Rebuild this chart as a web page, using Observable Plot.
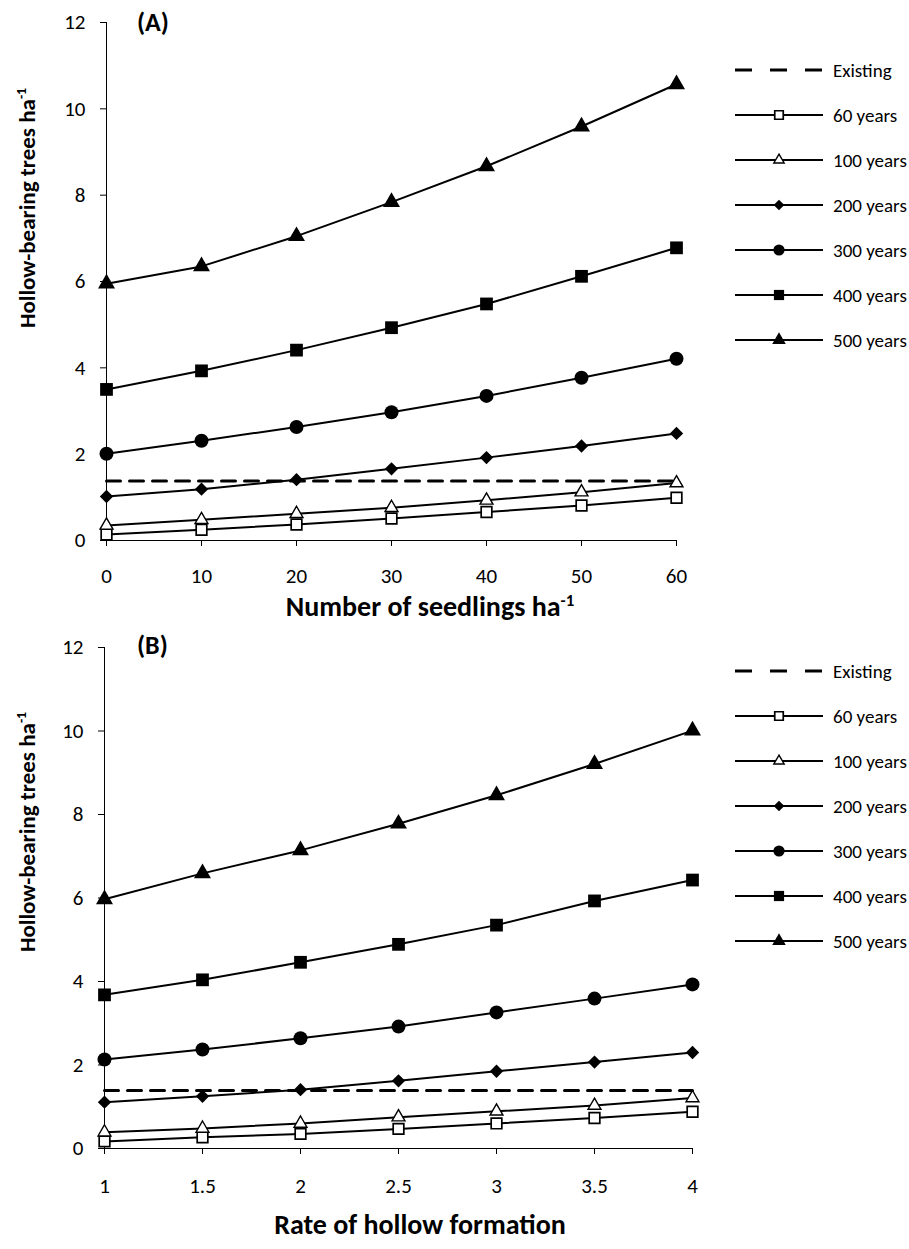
<!DOCTYPE html>
<html>
<head>
<meta charset="utf-8">
<script src="https://cdn.jsdelivr.net/npm/d3@7"></script>
<script src="https://cdn.jsdelivr.net/npm/@observablehq/plot@0.6"></script>
<style>
  body { margin: 0; background: #fff; }
  #fig { position: relative; width: 909px; height: 1249px; font-family: Carlito, Calibri, Lato, sans-serif; color: #000; }
  .panel { position: absolute; left: 0; }
  .ttl { position: absolute; font-weight: bold; white-space: nowrap; transform: translate(-50%, -50%); line-height: 1; }
  .ttl sup { font-size: 0.6em; vertical-align: 0.6em; line-height: 0; }
  .xtl { font-size: 28px; }
  .ytl { font-size: 23px; transform: translate(-50%, -50%) rotate(-90deg); }
  .tag { position: absolute; font-weight: bold; font-size: 26px; line-height: 1; transform: translateY(-50%); }
  .leg { position: absolute; left: 735px; display: flex; align-items: center; height: 24px; font-size: 19px; transform: translateY(-50%); white-space: nowrap; }
  .leg svg { display: block; margin-right: 10px; }
</style>
</head>
<body>
<div id="fig"></div>
<script>
// Series labels (stand age of the hollow-bearing tree population)
const ages = ["60 years", "100 years", "200 years", "300 years", "400 years", "500 years"];
const yTicks = [0, 2, 4, 6, 8, 10, 12];

// (A) number of seedlings planted per hectare
const seedlings = [0, 10, 20, 30, 40, 50, 60];
const seedlings60 = [0.14, 0.25, 0.37, 0.51, 0.66, 0.81, 0.99];
const seedlings100 = [0.35, 0.48, 0.62, 0.76, 0.93, 1.12, 1.33];
const seedlings200 = [1.02, 1.19, 1.41, 1.66, 1.92, 2.19, 2.48];
const seedlings300 = [2.01, 2.31, 2.63, 2.97, 3.35, 3.77, 4.21];
const seedlings400 = [3.50, 3.93, 4.41, 4.93, 5.48, 6.12, 6.78];
const seedlings500 = [5.95, 6.35, 7.05, 7.84, 8.67, 9.59, 10.57];
const existingSeedlings = 1.38;

// (B) rate of hollow formation
const rates = [1, 1.5, 2, 2.5, 3, 3.5, 4];
const rate60 = [0.17, 0.27, 0.35, 0.47, 0.60, 0.73, 0.88];
const rate100 = [0.39, 0.48, 0.60, 0.75, 0.89, 1.03, 1.21];
const rate200 = [1.11, 1.25, 1.41, 1.62, 1.85, 2.07, 2.30];
const rate300 = [2.13, 2.37, 2.64, 2.92, 3.26, 3.59, 3.93];
const rate400 = [3.68, 4.04, 4.46, 4.89, 5.35, 5.93, 6.43];
const rate500 = [5.97, 6.59, 7.14, 7.78, 8.46, 9.21, 10.01];
const existingRate = 1.39;

// Marker styling for each age class
const markers = {
  "60 years":  {symbol: "square",   fill: "#fff", r: 6.0, strokeWidth: 1.7},
  "100 years": {symbol: "triangle", fill: "#fff", r: 4.8, strokeWidth: 1.4},
  "200 years": {symbol: "diamond2", fill: "#000", r: 6.0, strokeWidth: 0},
  "300 years": {symbol: "circle",   fill: "#000", r: 7.0, strokeWidth: 0},
  "400 years": {symbol: "square",   fill: "#000", r: 7.2, strokeWidth: 0},
  "500 years": {symbol: "triangle", fill: "#000", r: 6.3, strokeWidth: 0}
};
const d3Symbols = {square: d3.symbolSquare, triangle: d3.symbolTriangle, diamond2: d3.symbolDiamond2, circle: d3.symbolCircle};

const fig = document.getElementById("fig");
const FONT = "Carlito, Calibri, Lato, sans-serif";

function panel({xs, series, existing, top, height, marginLeft, marginRight, marginTop, marginBottom, xPad}) {
  const rows = [];
  ages.forEach((age, i) => series[i].forEach((v, j) => rows.push({age, x: xs[j], y: v})));
  const ends = [xs[0], xs[xs.length - 1]].map(x => ({x, y: existing}));
  const marks = [
    Plot.ruleX([xs[0]], {stroke: "#000", strokeWidth: 1}),
    Plot.ruleY([0], {stroke: "#000", strokeWidth: 1}),
    Plot.axisY({ticks: yTicks, tickSize: 6, tickPadding: 15, tickFormat: d => String(d), label: null}),
    Plot.axisX({ticks: xs, tickSize: 6, tickPadding: xPad, tickFormat: d => String(d), label: null}),
    Plot.line(ends, {x: "x", y: "y", stroke: "#000", strokeWidth: 3, strokeDasharray: "14,9"})
  ];
  for (const age of ages) {
    const d = rows.filter(r => r.age === age);
    const m = markers[age];
    marks.push(Plot.line(d, {x: "x", y: "y", stroke: "#000", strokeWidth: 2}));
    marks.push(Plot.dot(d, {x: "x", y: "y", symbol: m.symbol, r: m.r, fill: m.fill,
      stroke: m.strokeWidth ? "#000" : "none", strokeWidth: m.strokeWidth}));
  }
  const svg = Plot.plot({
    width: 909, height, marginLeft, marginRight, marginTop, marginBottom,
    x: {domain: [xs[0], xs[xs.length - 1]]},
    y: {domain: [0, 12]},
    style: {fontSize: "21px", fontFamily: FONT, color: "#000", background: "#fff", overflow: "visible"},
    marks
  });
  svg.classList.add("panel");
  svg.style.top = top + "px";
  fig.appendChild(svg);
}

panel({xs: seedlings,
  series: [seedlings60, seedlings100, seedlings200, seedlings300, seedlings400, seedlings500],
  existing: existingSeedlings, top: 0, height: 625,
  marginLeft: 106, marginRight: 233, marginTop: 22, marginBottom: 85, xPad: 22});

panel({xs: rates,
  series: [rate60, rate100, rate200, rate300, rate400, rate500],
  existing: existingRate, top: 625, height: 624,
  marginLeft: 104, marginRight: 217, marginTop: 22, marginBottom: 101, xPad: 24});

// Axis titles and panel tags
function html(cls, x, y, content) {
  const el = document.createElement("div");
  el.className = cls;
  el.style.left = x + "px";
  el.style.top = y + "px";
  el.innerHTML = content;
  fig.appendChild(el);
}
const yTitle = "Hollow-bearing trees ha<sup>-1</sup>";
html("ttl ytl", 27, 208, yTitle);
html("ttl ytl", 27, 832, yTitle);
html("ttl xtl", 430, 607, "Number of seedlings ha<sup>-1</sup>");
html("ttl xtl", 420, 1225, "Rate of hollow formation");
html("tag", 137, 22, "(A)");
html("tag", 137, 645, "(B)");

// Legends
function legend(top0) {
  const items = ["Existing", ...ages];
  items.forEach((name, i) => {
    const row = document.createElement("div");
    row.className = "leg";
    row.style.top = (top0 + i * 45) + "px";
    const s = d3.create("svg").attr("width", 88).attr("height", 24);
    if (name === "Existing") {
      s.append("line").attr("x1", 0).attr("x2", 88).attr("y1", 12).attr("y2", 12)
        .attr("stroke", "#000").attr("stroke-width", 3).attr("stroke-dasharray", "17,18");
    } else {
      const m = markers[name];
      s.append("line").attr("x1", 0).attr("x2", 88).attr("y1", 12).attr("y2", 12)
        .attr("stroke", "#000").attr("stroke-width", 2);
      const rr = m.r * 0.8;
      s.append("path").attr("transform", "translate(44,12)")
        .attr("d", d3.symbol(d3Symbols[m.symbol], rr * rr * Math.PI)())
        .attr("fill", m.fill).attr("stroke", m.strokeWidth ? "#000" : "none")
        .attr("stroke-width", m.strokeWidth);
    }
    row.appendChild(s.node());
    const t = document.createElement("span");
    t.textContent = name;
    row.appendChild(t);
    fig.appendChild(row);
  });
}
legend(70);
legend(671);
</script>
</body>
</html>
